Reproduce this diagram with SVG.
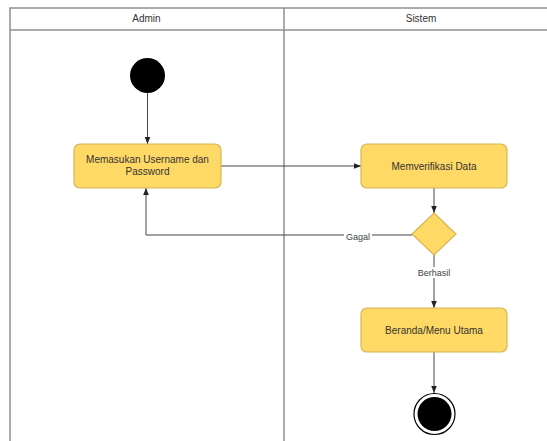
<svg xmlns="http://www.w3.org/2000/svg" width="547" height="441" viewBox="0 0 547 441">
<style>
.lane{fill:none;stroke:#909090;stroke-width:1.5}
.lt{font-family:"Liberation Sans",Arial,sans-serif;font-size:10px;fill:#333;text-anchor:middle}
.box{fill:#FFD966;stroke:#D6B656;stroke-width:1.2}
.bt{font-family:"Liberation Sans",Arial,sans-serif;font-size:10px;fill:#333;text-anchor:middle}
.edge{fill:none;stroke:#444;stroke-width:1}
.el{font-family:"Liberation Sans",Arial,sans-serif;font-size:9px;fill:#444;text-anchor:middle}
</style>
<defs>
<marker id="arr" viewBox="0 0 10 10" refX="10" refY="5" markerWidth="7" markerHeight="7" markerUnits="userSpaceOnUse" orient="auto">
<path d="M0,1 L10,5 L0,9 Z" fill="#222"/>
</marker>
</defs>
<g id="lanes">
<path class="lane" d="M10,441 V8 H547 M10,30 H547 M284,8 V441"/>
<text class="lt" x="146.5" y="22">Admin</text>
<text class="lt" x="421" y="22">Sistem</text>
</g>
<g id="connectors">
<path class="edge" d="M147.5,93 V144" marker-end="url(#arr)"/>
<path class="edge" d="M221,166 H361" marker-end="url(#arr)"/>
<path class="edge" d="M434,188 V213" marker-end="url(#arr)"/>
<path class="edge" d="M412,234 V235 H146 V188" marker-end="url(#arr)"/>
<path class="edge" d="M434,255 V308" marker-end="url(#arr)"/>
<path class="edge" d="M434,352 V393" marker-end="url(#arr)"/>
<rect x="344" y="231" width="28" height="11" fill="#fff"/>
<text class="el" x="358" y="240">Gagal</text>
<rect x="416" y="267" width="36" height="11" fill="#fff"/>
<text class="el" x="434" y="276">Berhasil</text>
</g>
<g id="start">
<circle cx="147.5" cy="75.5" r="17.5" fill="#000"/>
</g>
<g id="input">
<rect class="box" x="74" y="144" width="147" height="44" rx="6"/>
<text class="bt" x="147.5" y="163">Memasukan Username dan</text>
<text class="bt" x="147.5" y="175">Password</text>
</g>
<g id="verify">
<rect class="box" x="361" y="144" width="146" height="44" rx="6"/>
<text class="bt" x="434" y="169.5">Memverifikasi Data</text>
</g>
<g id="decision">
<path class="box" d="M434,213 L456,234 L434,255 L412,234 Z"/>
</g>
<g id="home">
<rect class="box" x="361" y="308" width="146" height="44" rx="6"/>
<text class="bt" x="434" y="333.5">Beranda/Menu Utama</text>
</g>
<g id="end">
<circle cx="434.5" cy="414" r="20.5" fill="#fff" stroke="#000" stroke-width="1.2"/>
<circle cx="434.5" cy="414" r="17" fill="#000"/>
</g>
</svg>
